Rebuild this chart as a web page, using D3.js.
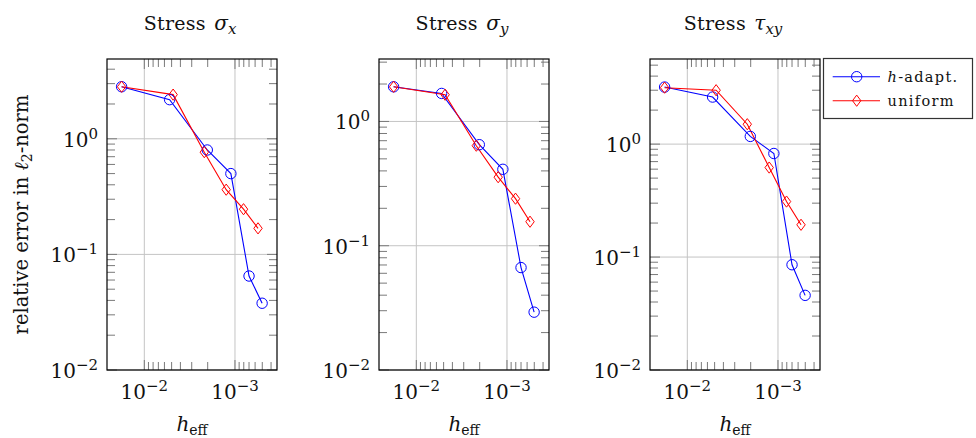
<!DOCTYPE html>
<html>
<head>
<meta charset="utf-8">
<title>Stress error convergence</title>
<script src="https://d3js.org/d3.v7.min.js"></script>
<style>
  body { margin: 0; background: #fff; }
</style>
</head>
<body>
<div id="chart"></div>
<script>
// mesh sizes (h_eff) for each refinement strategy
var hAdapt = [0.0178, 0.00526, 0.00202, 0.00111, 0.00070, 0.000502];
var hUniform = [0.0178, 0.00481, 0.00218, 0.00125, 0.000805, 0.000557];

// relative errors
var sigmaXAdapt = [2.82, 2.18, 0.80, 0.50, 0.065, 0.0378];
var sigmaXUniform = [2.82, 2.41, 0.766, 0.363, 0.246, 0.168];
var sigmaYAdapt = [1.90, 1.68, 0.65, 0.412, 0.0667, 0.0292];
var sigmaYUniform = [1.90, 1.64, 0.638, 0.356, 0.239, 0.156];
var tauXYAdapt = [3.2, 2.61, 1.17, 0.826, 0.0855, 0.0458];
var tauXYUniform = [3.16, 3.0, 1.50, 0.62, 0.31, 0.193];

var titles = [["σ", "x"], ["σ", "y"], ["τ", "xy"]];
var yMax = [4.9, 3.18, 5.67];
var xTicks = [1e-2, 1e-3];
var yTicks = [1e-2, 1e-1, 1];
var legendLabels = ["h-adapt.", "uniform"];

var panels = [
  { adapt: sigmaXAdapt, uniform: sigmaXUniform },
  { adapt: sigmaYAdapt, uniform: sigmaYUniform },
  { adapt: tauXYAdapt, uniform: tauXYUniform }
];

var width = 976, height = 438;
var boxLeft = [107, 379, 650], boxW = 170, boxTop = 59, boxBottom = 370;
var blue = "#0000ff", red = "#ff0000";
var serif = "'DejaVu Serif', serif";

var svg = d3.select("#chart").append("svg")
  .attr("width", width).attr("height", height)
  .attr("font-family", serif).attr("fill", "#111");

function drawCircle(g, x, y) {
  g.append("circle").attr("cx", x).attr("cy", y).attr("r", 5.2)
    .attr("fill", "none").attr("stroke", blue).attr("stroke-width", 1);
}
function drawDiamond(g, x, y) {
  g.append("path")
    .attr("d", "M" + x + "," + (y - 5.6) + "L" + (x + 4.2) + "," + y + "L" + x + "," + (y + 5.6) + "L" + (x - 4.2) + "," + y + "Z")
    .attr("fill", "none").attr("stroke", red).attr("stroke-width", 1);
}
function powLabel(sel, exp, size, supSize) {
  sel.append("tspan").text("10").attr("font-size", size);
  sel.append("tspan").text(exp).attr("font-size", supSize).attr("dy", -8);
}

// minor tick values
var xMinor = [];
[1e-4, 1e-3].forEach(function(d) { for (var k = 2; k <= 9; k++) xMinor.push(k * d); });
var yMinor = [];
[1e-2, 1e-1, 1].forEach(function(d) { for (var k = 2; k <= 9; k++) yMinor.push(k * d); });

panels.forEach(function(p, i) {
  var x0 = boxLeft[i];
  var x = d3.scaleLog().domain([0.0258, 3.44e-4]).range([x0, x0 + boxW]);
  var y = d3.scaleLog().domain([0.01, yMax[i]]).range([boxBottom, boxTop]);
  var g = svg.append("g");

  // grid
  xTicks.forEach(function(t) {
    g.append("line").attr("x1", x(t)).attr("x2", x(t)).attr("y1", boxTop).attr("y2", boxBottom)
      .attr("stroke", "#c4c4c4").attr("stroke-width", 1);
  });
  yTicks.forEach(function(t) {
    g.append("line").attr("x1", x0).attr("x2", x0 + boxW).attr("y1", y(t)).attr("y2", y(t))
      .attr("stroke", "#c4c4c4").attr("stroke-width", 1);
  });

  // ticks on all four sides
  var tk = g.append("g").attr("stroke", "#7a7a7a").attr("stroke-width", 1);
  xMinor.concat(xTicks).forEach(function(t) {
    var px = x(t);
    if (px < x0 || px > x0 + boxW) return;
    var len = xTicks.indexOf(t) >= 0 ? 10 : 8;
    tk.append("line").attr("x1", px).attr("x2", px).attr("y1", boxBottom).attr("y2", boxBottom - len);
    tk.append("line").attr("x1", px).attr("x2", px).attr("y1", boxTop).attr("y2", boxTop + len);
  });
  yMinor.concat(yTicks).forEach(function(t) {
    var py = y(t);
    if (py < boxTop || py > boxBottom) return;
    var len = yTicks.indexOf(t) >= 0 ? 10 : 8;
    tk.append("line").attr("y1", py).attr("y2", py).attr("x1", x0).attr("x2", x0 + len);
    tk.append("line").attr("y1", py).attr("y2", py).attr("x1", x0 + boxW).attr("x2", x0 + boxW - len);
  });

  // box
  g.append("rect").attr("x", x0).attr("y", boxTop).attr("width", boxW).attr("height", boxBottom - boxTop)
    .attr("fill", "none").attr("stroke", "#000").attr("stroke-width", 1.2);

  // tick labels
  yTicks.forEach(function(t) {
    var lbl = g.append("text").attr("x", x0 - 9).attr("y", y(t) + 8).attr("text-anchor", "end");
    powLabel(lbl, t === 1 ? "0" : "−" + Math.round(-Math.log10(t)), 20, 15);
  });
  xTicks.forEach(function(t) {
    var lbl = g.append("text").attr("x", x(t)).attr("y", 399).attr("text-anchor", "middle");
    powLabel(lbl, "−" + Math.round(-Math.log10(t)), 20, 15);
  });

  // title
  var tt = g.append("text").attr("x", x0 + boxW / 2 - 2).attr("y", 30).attr("text-anchor", "middle").attr("font-size", 19);
  tt.append("tspan").text("Stress ").attr("letter-spacing", 0.3);
  tt.append("tspan").text(titles[i][0]).attr("font-style", "italic").attr("font-size", 20).attr("dx", 2);
  tt.append("tspan").text(titles[i][1]).attr("font-style", "italic").attr("font-size", 15).attr("dy", 4);

  // x label
  var xl = g.append("text").attr("x", x0 + boxW / 2).attr("y", 431).attr("text-anchor", "middle").attr("font-size", 20);
  xl.append("tspan").text("h").attr("font-style", "italic");
  xl.append("tspan").text("eff").attr("font-size", 14).attr("dy", 4);

  // series
  var line = function(hs) {
    return d3.line().x(function(d, k) { return x(hs[k]); }).y(function(d) { return y(d); });
  };
  g.append("path").datum(p.adapt).attr("d", line(hAdapt)).attr("fill", "none").attr("stroke", blue).attr("stroke-width", 1.1);
  g.append("path").datum(p.uniform).attr("d", line(hUniform)).attr("fill", "none").attr("stroke", red).attr("stroke-width", 1.1);
  p.adapt.forEach(function(d, k) { drawCircle(g, x(hAdapt[k]), y(d)); });
  p.uniform.forEach(function(d, k) { drawDiamond(g, x(hUniform[k]), y(d)); });
});

// y label
var yl = svg.append("text").attr("transform", "translate(28," + ((boxTop + boxBottom) / 2) + ") rotate(-90)")
  .attr("text-anchor", "middle").attr("font-size", 19.5);
yl.append("tspan").text("relative error in ");
yl.append("tspan").text("ℓ").attr("font-style", "italic");
yl.append("tspan").text("2").attr("font-size", 14).attr("dy", 4);
yl.append("tspan").text("-norm").attr("dy", -4);

// legend
var lg = svg.append("g");
lg.append("rect").attr("x", 823.5).attr("y", 58.5).attr("width", 149).attr("height", 60)
  .attr("fill", "#fff").attr("stroke", "#333").attr("stroke-width", 1.2);
[76.7, 100.7].forEach(function(ly, k) {
  var col = k === 0 ? blue : red;
  lg.append("line").attr("x1", 832.7).attr("x2", 880).attr("y1", ly).attr("y2", ly).attr("stroke", col).attr("stroke-width", 1.1);
  if (k === 0) drawCircle(lg, 856.7, ly); else drawDiamond(lg, 856.7, ly);
  var t = lg.append("text").attr("x", 887.5).attr("y", ly + 5).attr("font-size", 14.5).attr("letter-spacing", 1.3);
  if (k === 0) {
    t.append("tspan").text("h").attr("font-style", "italic");
    t.append("tspan").text(legendLabels[0].slice(1));
  } else {
    t.text(legendLabels[1]);
  }
});
</script>
</body>
</html>
